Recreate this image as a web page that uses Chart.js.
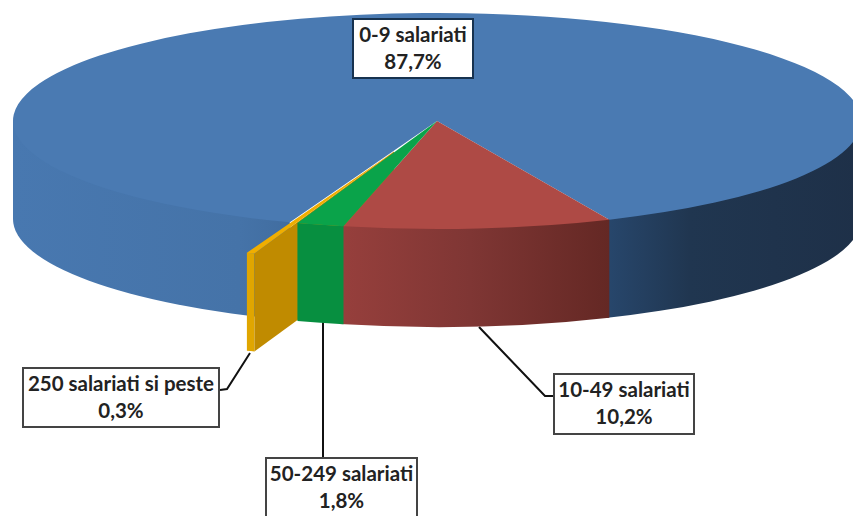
<!DOCTYPE html>
<html>
<head>
<meta charset="utf-8">
<style>
  html, body { margin: 0; padding: 0; background: #fff; overflow: hidden; }
  #wrap { position: relative; width: 853px; height: 516px; overflow: hidden; filter: blur(0.5px); }
  canvas { position: absolute; left: 0; top: 0; }
  .lbl {
    position: absolute; box-sizing: border-box; background: #fff;
    border: 2px solid #444; text-align: center; color: #222;
    font: bold 20.5px/27px Lato, sans-serif; padding-top: 1px; white-space: nowrap;
  }
</style>
</head>
<body>
<div id="wrap"><canvas id="pie" width="853" height="516"></canvas></div>
<script src="https://cdn.jsdelivr.net/npm/chart.js@4"></script>
<script>
const categories = ["0-9 salariati", "10-49 salariati", "50-249 salariati", "250 salariati si peste"];
const shares = [87.7, 10.2, 1.8, 0.3];
const explode = [0, 0, 0, 0.3]; // only the smallest slice is pulled out, share of the radius

const topColors = ["#4a7ab2", "#ae4a45", "#0aa34a", "#f0ae00"];

// Wall shading, left to right over the whole pie
const wallStops = [
  [[13, "#4878b0"], [240, "#4573a8"], [610, "#27466b"], [690, "#203650"], [860, "#1e3048"]],
  [[344, "#963f3c"], [470, "#7f3634"], [610, "#642824"]],
  [[300, "#078f40"], [344, "#078f40"]],
  [[247, "#e0a600"], [255, "#e0a600"]],
];

// Pie placement on the page
const pie = { cx: 437, cy: 121, rx: 424, ry: 108, depth: 98 };

// Label boxes and their leader lines
const boxes = [
  { x: 352, y: 18, w: 122, h: 61, line: null, border: "#17324f" },
  { x: 553, y: 373, w: 142, h: 62, line: [[479, 327], [545, 396], [553, 396]] },
  { x: 265, y: 457, w: 153, h: 62, line: [[323, 322], [323, 457]] },
  { x: 22, y: 367, w: 198, h: 61, line: [[250, 353], [227, 389], [220, 390]] },
];

const shift = (arc, i) => {
  const mid = (arc.startAngle + arc.endAngle) / 2;
  return {
    x: pie.cx + explode[i] * pie.rx * Math.cos(mid),
    y: pie.cy + explode[i] * pie.ry * Math.sin(mid),
  };
};

const wallFill = (ctx, i) => {
  const stops = wallStops[i];
  const x0 = stops[0][0];
  const x1 = stops[stops.length - 1][0];
  const g = ctx.createLinearGradient(x0, 0, x1, 0);
  stops.forEach((s) => g.addColorStop((s[0] - x0) / (x1 - x0), s[1]));
  return g;
};

// Outer wall: only the part on the front half of the ellipse can be seen.
// The top edge is a chord hidden under the top face and the far end runs a
// little under the next slice, so no white seams show.
const drawWall = (ctx, arc, i) => {
  const c = shift(arc, i);
  ctx.fillStyle = wallFill(ctx, i);
  for (let k = 0; k < 2; k++) {
    const from = Math.max(arc.startAngle, 2 * Math.PI * k);
    let to = Math.min(arc.endAngle, Math.PI + 2 * Math.PI * k);
    if (to <= from) continue;
    if (to === arc.endAngle && i < 2) to += 0.01;
    ctx.beginPath();
    ctx.moveTo(c.x + pie.rx * Math.cos(from), c.y + pie.ry * Math.sin(from));
    ctx.ellipse(c.x, c.y + pie.depth, pie.rx, pie.ry, 0, from, to);
    ctx.lineTo(c.x + pie.rx * Math.cos(to), c.y + pie.ry * Math.sin(to));
    ctx.closePath();
    ctx.fill();
  }
};

// Cut face of the pulled out slice, seen through the gap
const drawCutFace = (ctx, arc, i) => {
  const c = shift(arc, i);
  const px = c.x + pie.rx * Math.cos(arc.startAngle);
  const py = c.y + pie.ry * Math.sin(arc.startAngle);
  ctx.fillStyle = "#c08b00";
  ctx.beginPath();
  ctx.moveTo(c.x, c.y);
  ctx.lineTo(px, py);
  ctx.lineTo(px, py + pie.depth);
  ctx.lineTo(c.x, c.y + pie.depth);
  ctx.closePath();
  ctx.fill();
};

const drawTop = (ctx, arc, i) => {
  const c = shift(arc, i);
  ctx.save();
  ctx.translate(c.x, c.y);
  ctx.scale(pie.rx / arc.outerRadius, pie.ry / arc.outerRadius);
  ctx.translate(-arc.x, -arc.y);
  arc.draw(ctx);
  ctx.restore();
};

const leaderLines = (ctx) => {
  ctx.strokeStyle = "#111";
  ctx.lineWidth = 2;
  boxes.forEach((b) => {
    if (!b.line) return;
    ctx.beginPath();
    b.line.forEach((p, n) => (n ? ctx.lineTo(p[0], p[1]) : ctx.moveTo(p[0], p[1])));
    ctx.stroke();
  });
};

const pie3d = {
  id: "pie3d",
  beforeDatasetsDraw(chart) {
    const ctx = chart.ctx;
    const arcs = chart.getDatasetMeta(0).data;
    ctx.save();
    leaderLines(ctx);
    drawWall(ctx, arcs[0], 0);
    drawTop(ctx, arcs[0], 0);
    drawWall(ctx, arcs[3], 3);
    drawCutFace(ctx, arcs[3], 3);
    [1, 2].forEach((i) => {
      drawWall(ctx, arcs[i], i);
      drawTop(ctx, arcs[i], i);
    });
    drawTop(ctx, arcs[3], 3);
    ctx.restore();
    return false; // everything is drawn above, in back to front order
  },
};

new Chart(document.getElementById("pie"), {
  type: "pie",
  plugins: [pie3d],
  data: {
    labels: categories,
    datasets: [{
      data: shares,
      backgroundColor: topColors,
      borderWidth: 0,
      hoverOffset: 0,
    }],
  },
  options: {
    responsive: false,
    animation: false,
    events: [],
    rotation: 200.3,
    plugins: { legend: { display: false }, tooltip: { enabled: false } },
  },
});

// Labels
const wrap = document.getElementById("wrap");
boxes.forEach((b, i) => {
  const d = document.createElement("div");
  d.className = "lbl";
  d.style.left = b.x + "px";
  d.style.top = b.y + "px";
  d.style.width = b.w + "px";
  d.style.height = b.h + "px";
  if (b.border) d.style.borderColor = b.border;
  d.innerHTML = categories[i] + "<br>" + shares[i].toFixed(1).replace(".", ",") + "%";
  wrap.appendChild(d);
});
</script>
</body>
</html>
